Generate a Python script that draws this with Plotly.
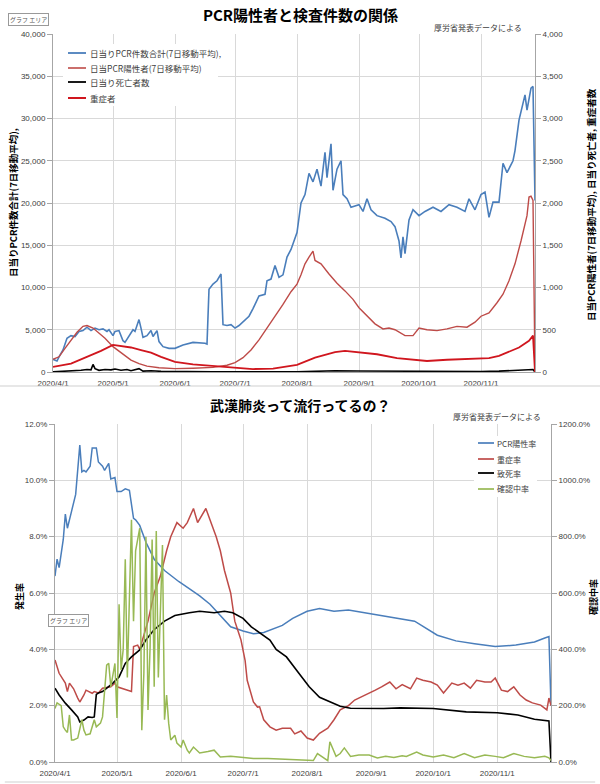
import plotly.graph_objects as go

W, H = 600, 784

# ---------------- top chart data ----------------
tests_dates = ["04-01","04-02","04-03","04-04","04-06","04-08","04-10","04-12","04-14","04-16","04-18","04-20","04-22","04-24","04-26","04-28","04-29",
               "05-01","05-02","05-04","05-06","05-07","05-09","05-11","05-12","05-14","05-15","05-16","05-18","05-20","05-21","05-23","05-24","05-26","05-29",
               "06-01","06-05","06-10","06-16","06-17","06-18","06-20","06-22","06-24","06-25","06-27","06-29",
               "07-01","07-03","07-06","07-08","07-10","07-12","07-13","07-16","07-17","07-19","07-21","07-23","07-25","07-27","07-29",
               "08-01","08-03","08-05","08-07","08-09","08-11","08-13","08-15","08-16","08-18","08-19","08-21","08-23","08-24","08-26","08-28",
               "09-01","09-03","09-05","09-07","09-10","09-14","09-17","09-19","09-21","09-22","09-23","09-24","09-26","09-28",
               "10-01","10-04","10-08","10-12","10-16","10-20","10-24","10-26","10-29",
               "11-01","11-03","11-05","11-07","11-10","11-12","11-14","11-17","11-18","11-20","11-23","11-24","11-26","11-27","11-28"]
tests_vals = [1500,1400,1300,1800,2600,4000,4300,4200,4800,4900,5300,4900,5200,5000,5100,4800,5000,
              4300,4800,4900,3700,3500,4200,5000,4800,6200,5200,4100,4300,4900,4200,4900,3600,3000,2800,
              2800,3200,3500,3400,3300,9800,10400,10800,11600,5600,5500,5600,
              5200,5500,6200,6600,7500,8500,9000,9200,10800,11000,12600,11200,11500,13600,14500,
              16500,20000,21000,23500,22500,24000,22000,26000,23000,27000,21500,24000,25000,21000,20500,19500,
              19800,19000,20500,19200,18500,18200,17800,17200,15500,13500,16000,14000,18000,19200,
              18500,19000,19500,19000,19800,19500,19000,20500,19200,
              21000,21300,18300,20100,20100,24700,23600,25000,26200,29800,32800,31000,33600,33800,20300]

pos_dates = ["04-01","04-04","04-07","04-10","04-13","04-16","04-18","04-21","04-24","04-27",
             "05-01","05-04","05-07","05-10","05-14","05-18","05-24",
             "06-01","06-10","06-20","06-27",
             "07-01","07-05","07-09","07-13","07-17","07-21","07-25","07-29",
             "08-01","08-03","08-05","08-07","08-09","08-10","08-13","08-17","08-21","08-25","08-29",
             "09-01","09-05","09-09","09-13","09-16","09-19","09-22","09-24","09-28",
             "10-01","10-05","10-10","10-15","10-20","10-25","10-29",
             "11-01","11-05","11-09","11-12","11-15","11-18","11-21","11-24","11-25","11-26","11-27","11-28"]
pos_vals = [150,180,280,380,470,540,550,520,460,400,
            300,250,190,140,100,70,50,
            40,45,55,80,
            110,170,260,380,520,650,800,950,
            1040,1150,1280,1360,1430,1320,1280,1160,1050,960,860,
            760,670,570,510,520,500,460,430,430,
            520,500,490,510,540,530,590,
            660,700,820,920,1080,1280,1550,1850,2070,2080,2030,0]

severe_dates = ["04-01","04-10","04-20","04-25","05-01","05-05","05-10","05-15","05-20","05-25",
                "06-01","06-10","06-20","07-01","07-10","07-20","08-01","08-10","08-20","08-25",
                "09-01","09-10","09-20","10-01","10-05","10-15","11-01","11-05","11-10","11-15",
                "11-20","11-25","11-27","11-28"]
severe_vals = [60,100,200,250,320,310,290,260,230,180,
               120,90,70,50,35,40,85,170,235,250,
               230,210,165,140,130,145,160,165,190,240,
               290,370,430,0]

death_dates = ["04-01","04-05","04-10","04-15","04-18","04-20","04-21","04-22","04-24","04-27","04-30",
               "05-02","05-05","05-08","05-10","05-12","05-14","05-16","05-20","05-25",
               "06-01","06-10","06-20","07-01","07-15","08-01","08-10","08-20",
               "09-01","09-10","09-20","10-01","10-15","11-01","11-10","11-20","11-27","11-28"]
death_vals = [2,5,10,20,30,25,90,40,20,30,25,
              35,20,30,15,25,40,10,15,8,
              5,3,2,2,1,3,8,15,
              12,10,8,7,6,6,10,20,30,0]

# ---------------- bottom chart data ----------------
posrate_dates = ["04-01","04-02","04-03","04-05","04-06","04-07","04-09","04-11","04-13","04-14","04-15","04-16","04-18","04-19",
                 "04-21","04-22","04-24","04-25","04-27","04-28","04-30","05-01","05-03","05-05","05-07","05-09","05-10","05-12",
                 "05-15","05-19","05-24","05-31","06-06","06-10","06-15","06-20","06-25",
                 "07-01","07-06","07-11","07-20","07-25","08-01","08-07","08-14","08-21",
                 "09-02","09-12","09-22","10-03","10-12","10-21","10-31","11-10","11-19","11-24","11-26","11-27"]
posrate_vals = [6.6,7.2,6.9,7.9,8.8,8.3,8.9,9.5,11.25,10.3,10.35,10.3,10.5,11.15,
                11.15,10.65,10.5,10.35,10.6,10.05,10.1,9.6,9.6,9.7,9.65,8.65,8.6,8.4,
                7.8,7.2,6.8,6.4,6.1,5.9,5.6,5.2,4.8,
                4.65,4.55,4.6,4.85,5.1,5.35,5.45,5.35,5.4,
                5.25,5.1,5.0,4.5,4.3,4.2,4.1,4.15,4.26,4.4,4.45,2.0]

sevrate_dates = ["04-01","04-03","04-06","04-07","04-08","04-10","04-12","04-13","04-15","04-16","04-19","04-20","04-22","04-24",
                 "04-28","04-30","05-01","05-04","05-06","05-08","05-09","05-11","05-12","05-16","05-19","05-22","05-25","05-27",
                 "05-30","06-02","06-04","06-07","06-09","06-12","06-13","06-16","06-18","06-20","06-22","06-25","06-27","06-30",
                 "07-02","07-03","07-06","07-08","07-09","07-11","07-14","07-17","07-20","07-24","07-26","07-29",
                 "08-01","08-04","08-07","08-11","08-14","08-17","08-21","08-24","08-27","08-31",
                 "09-03","09-06","09-10","09-13","09-16","09-20","09-23","09-26","09-30",
                 "10-03","10-06","10-10","10-13","10-16","10-19","10-22","10-26","10-29","10-31",
                 "11-03","11-06","11-09","11-12","11-15","11-18","11-22","11-25","11-26","11-27"]
sevrate_vals = [3.62,3.15,2.8,2.5,2.8,2.6,2.27,2.13,2.38,2.55,2.44,2.5,2.45,2.62,
                2.67,2.8,2.67,2.6,2.55,2.5,4.1,4.15,4.0,5.0,6.0,6.6,7.5,8.0,
                8.5,8.3,8.5,9.0,8.5,8.9,9.0,8.4,8.0,7.5,6.8,6.0,5.0,4.33,
                3.6,2.9,2.13,1.95,1.96,1.5,1.25,1.13,1.2,1.2,1.0,1.1,
                0.85,0.78,1.02,1.2,1.5,1.85,2.0,2.2,2.3,2.45,
                2.55,2.67,2.84,2.6,2.75,2.6,2.98,2.9,2.84,
                2.73,2.45,2.8,2.73,2.8,2.62,2.9,2.84,2.84,2.98,
                2.55,2.5,2.67,2.38,2.2,2.1,2.02,1.85,2.27,2.0]

cfr_dates = ["04-01","04-03","04-06","04-07","04-09","04-12","04-13","04-15","04-17","04-19","04-20","04-21","04-22","04-24",
             "04-26","04-29","05-02","05-05","05-08","05-12","05-15","05-19","05-24","05-29","06-05","06-10","06-17","06-22",
             "06-26","07-01","07-05","07-14","07-17","07-22","07-28","08-02","08-07","08-12","08-17","08-22","08-27",
             "09-07","09-15","10-01","10-17","11-01","11-11","11-19","11-26","11-27"]
cfr_vals = [2.62,2.38,2.09,2.0,1.85,1.6,1.42,1.49,1.6,1.58,1.6,2.4,2.45,2.5,
            2.62,2.8,3.02,3.5,3.73,3.98,4.33,4.7,5.0,5.2,5.3,5.35,5.3,5.35,
            5.3,5.1,4.8,4.33,4.0,3.73,3.15,2.67,2.3,2.13,1.98,1.91,1.9,
            1.9,1.92,1.9,1.78,1.75,1.67,1.52,1.46,0.0]

pending_dates = ["04-01","04-02","04-04","04-05","04-06","04-07","04-08","04-09","04-10","04-12","04-14","04-15","04-16","04-18",
                 "04-20","04-21","04-23","04-24","04-26","04-27","04-28","04-30","05-01","05-02","05-03","05-04","05-05","05-06",
                 "05-08","05-09","05-10","05-12","05-13","05-14","05-15","05-16","05-17","05-18","05-19","05-20","05-21","05-23",
                 "05-24","05-25","05-26","05-27","05-29","05-30","06-01","06-02","06-04","06-05","06-07","06-10","06-14","06-17",
                 "06-20","06-25","06-30","07-06","07-13","07-29","08-01","08-04","08-06","08-11","08-12","08-15","08-17","08-19",
                 "08-22","08-26","08-31","09-04","09-08","09-12","09-16","09-18","09-23","09-26","10-01","10-06","10-11","10-16",
                 "10-21","10-26","10-31","11-04","11-09","11-14","11-19","11-24","11-26","11-27"]
pending_vals = [190,210,200,125,113,105,167,78,78,85,150,113,96,100,
                150,125,138,160,344,350,267,350,156,560,327,400,720,300,
                860,500,750,830,113,315,800,185,405,790,267,820,300,770,
                150,238,138,78,95,67,53,78,42,32,53,32,37,42,
                18,20,17,12,12,6,4,5,30,5,72,20,30,50,
                20,25,25,14,20,16,22,20,35,25,18,25,15,30,
                15,25,20,15,30,20,15,20,15,5]

top_names = ["日当りPCR件数合計(7日移動平均),", "日当PCR陽性者(7日移動平均)", "日当り死亡者数", "重症者"]
bottom_names = ["PCR陽性率", "重症率", "致死率", "確認中率"]

Y = "2020-"
def d(lst):
    return [Y + s for s in lst]

BLUE = "#4A7EBB"
BROWN = "#BE4B48"
RED = "#D0161E"
BLACK = "#000000"
GREEN = "#98B954"
GRID = "#D9D9D9"
AXIS = "#A6A6A6"
TXT = "#404040"
JP = "Noto Sans CJK JP, Liberation Sans, sans-serif"
NUM = "Liberation Sans, Arial, sans-serif"

top_styles = [(BLUE, 1.6), (BROWN, 1.4), (BLACK, 1.6), (RED, 1.8)]
bottom_styles = [(BLUE, 1.5), (BROWN, 1.5), (BLACK, 1.6), (GREEN, 1.5)]

def py(y):
    return 1 - y / H

fig = go.Figure()

top_series = [(tests_dates, tests_vals, "y"), (pos_dates, pos_vals, "y2"),
              (death_dates, death_vals, "y2"), (severe_dates, severe_vals, "y2")]
for (xs, ys, ya), name, (c, w) in zip(top_series, top_names, top_styles):
    fig.add_trace(go.Scatter(x=d(xs), y=ys, name=name, mode="lines", line=dict(color=c, width=w),
                             xaxis="x", yaxis=ya, showlegend=False))

bottom_series = [(posrate_dates, posrate_vals, "y3"), (sevrate_dates, sevrate_vals, "y3"),
                 (cfr_dates, cfr_vals, "y3"), (pending_dates, pending_vals, "y4")]
for (xs, ys, ya), name, (c, w) in zip(bottom_series, bottom_names, bottom_styles):
    fig.add_trace(go.Scatter(x=d(xs), y=ys, name=name, mode="lines", line=dict(color=c, width=w),
                             xaxis="x2", yaxis=ya, showlegend=False))

xcommon = dict(type="date", dtick="M1", tick0="2020-04-01", tickformat="%Y/%-m/%-d",
               showgrid=True, gridcolor=GRID, gridwidth=1, showline=True, linecolor=AXIS,
               ticks="", ticklabelstandoff=3, tickfont=dict(family=NUM, size=8, color=TXT),
               automargin=False, fixedrange=True, zeroline=False)
ycommon = dict(showline=True, linecolor=AXIS, ticks="outside", ticklen=5, tickcolor=AXIS,
               tickfont=dict(family=NUM, size=8, color=TXT), automargin=False, zeroline=False,
               fixedrange=True)

fig.update_layout(
    width=W, height=H, margin=dict(l=0, r=0, t=0, b=0),
    paper_bgcolor="white", plot_bgcolor="white", showlegend=False,
    xaxis=dict(xcommon, domain=[53 / W, 535 / W], range=["2020-04-01", "2020-11-28"], anchor="y"),
    yaxis=dict(ycommon, domain=[py(372), py(34)], range=[0, 40000], dtick=5000, tickformat=",d",
               showgrid=True, gridcolor=GRID, anchor="x"),
    yaxis2=dict(ycommon, domain=[py(372), py(34)], range=[0, 4000], dtick=500, tickformat=",d",
                overlaying="y", side="right", showgrid=False, anchor="x"),
    xaxis2=dict(xcommon, domain=[55 / W, 551 / W], range=["2020-04-01", "2020-11-27"], anchor="y3"),
    yaxis3=dict(ycommon, domain=[py(762), py(424)], range=[0, 12], dtick=2, tickformat=".1f", ticksuffix="%",
                showgrid=True, gridcolor=GRID, anchor="x2"),
    yaxis4=dict(ycommon, domain=[py(762), py(424)], range=[0, 1200], dtick=200, tickformat=".1f", ticksuffix="%",
                overlaying="y3", side="right", showgrid=False, anchor="x2"),
)

shapes = [
    dict(type="line", xref="paper", yref="paper", x0=0, x1=1, y0=py(386), y1=py(386),
         line=dict(color="#CFCFCF", width=1)),
    dict(type="line", xref="paper", yref="paper", x0=0.008, x1=0.992, y0=py(782), y1=py(782),
         line=dict(color="#CFCFCF", width=1)),
    # legend backgrounds
    dict(type="rect", xref="paper", yref="paper", x0=63 / W, x1=218 / W, y0=py(106), y1=py(44),
         fillcolor="white", line=dict(width=0), layer="above"),
    dict(type="rect", xref="paper", yref="paper", x0=474 / W, x1=537 / W, y0=py(497), y1=py(436),
         fillcolor="white", line=dict(width=0), layer="above"),
]

ann = []
# legends (drawn as sample lines + labels)
for i, (name, (c, w)) in enumerate(zip(top_names, top_styles)):
    yy = [53, 68, 82, 98][i]
    shapes.append(dict(type="line", xref="paper", yref="paper", x0=68 / W, x1=86 / W,
                       y0=py(yy), y1=py(yy), line=dict(color=c, width=w + 0.2), layer="above"))
    ann.append(dict(text=name, x=88 / W, y=py(yy), xref="paper", yref="paper", showarrow=False,
                    font=dict(family=JP, size=8.5, color=TXT), xanchor="left", yanchor="middle"))
for i, (name, (c, w)) in enumerate(zip(bottom_names, bottom_styles)):
    yy = [443, 459, 473, 489][i]
    shapes.append(dict(type="line", xref="paper", yref="paper", x0=478 / W, x1=494 / W,
                       y0=py(yy), y1=py(yy), line=dict(color=c, width=w + 0.2), layer="above"))
    ann.append(dict(text=name, x=495 / W, y=py(yy), xref="paper", yref="paper", showarrow=False,
                    font=dict(family=JP, size=8, color=TXT), xanchor="left", yanchor="middle"))

ann.append(dict(text="<b>PCR陽性者と検査件数の関係</b>", x=300 / W, y=py(15), xref="paper", yref="paper",
                showarrow=False, font=dict(family=JP, size=15, color="#000"), xanchor="center", yanchor="middle"))
ann.append(dict(text="<b>武漢肺炎って流行ってるの？</b>", x=300 / W, y=py(405), xref="paper", yref="paper",
                showarrow=False, font=dict(family=JP, size=14, color="#000"), xanchor="center", yanchor="middle"))
ann.append(dict(text="厚労省発表データによる", x=478 / W, y=py(28), xref="paper", yref="paper",
                showarrow=False, font=dict(family=JP, size=8, color=TXT), xanchor="center", yanchor="middle"))
ann.append(dict(text="厚労省発表データによる", x=497 / W, y=py(416), xref="paper", yref="paper",
                showarrow=False, font=dict(family=JP, size=8, color=TXT), xanchor="center", yanchor="middle"))
ann.append(dict(text="<b>日当りPCR件数合計(7日移動平均),</b>", x=13 / W, y=py(203), xref="paper", yref="paper",
                textangle=-90, showarrow=False, font=dict(family=JP, size=9.5, color="#000"),
                xanchor="center", yanchor="middle"))
ann.append(dict(text="<b>日当PCR陽性者(7日移動平均), 日当り死亡者, 重症者数</b>", x=591 / W, y=py(205),
                xref="paper", yref="paper", textangle=-90, showarrow=False,
                font=dict(family=JP, size=9.5, color="#000"), xanchor="center", yanchor="middle"))
ann.append(dict(text="<b>発生率</b>", x=19 / W, y=py(597), xref="paper", yref="paper",
                textangle=-90, showarrow=False, font=dict(family=JP, size=9, color="#000"),
                xanchor="center", yanchor="middle"))
ann.append(dict(text="<b>確認中率</b>", x=593 / W, y=py(597), xref="paper", yref="paper",
                textangle=-90, showarrow=False, font=dict(family=JP, size=9, color="#000"),
                xanchor="center", yanchor="middle"))
for (bx, by) in [(28, 20), (68, 620)]:
    ann.append(dict(text="グラフ エリア", x=bx / W, y=py(by), xref="paper", yref="paper", showarrow=False,
                    font=dict(family=JP, size=6, color="#555"), bgcolor="white", bordercolor="#999",
                    borderwidth=1, borderpad=1, xanchor="center", yanchor="middle"))

fig.update_layout(annotations=ann, shapes=shapes)

fig.write_html("out.html", config={"displayModeBar": False},
               post_script="document.body.style.margin='0px';document.body.style.padding='0px';")
